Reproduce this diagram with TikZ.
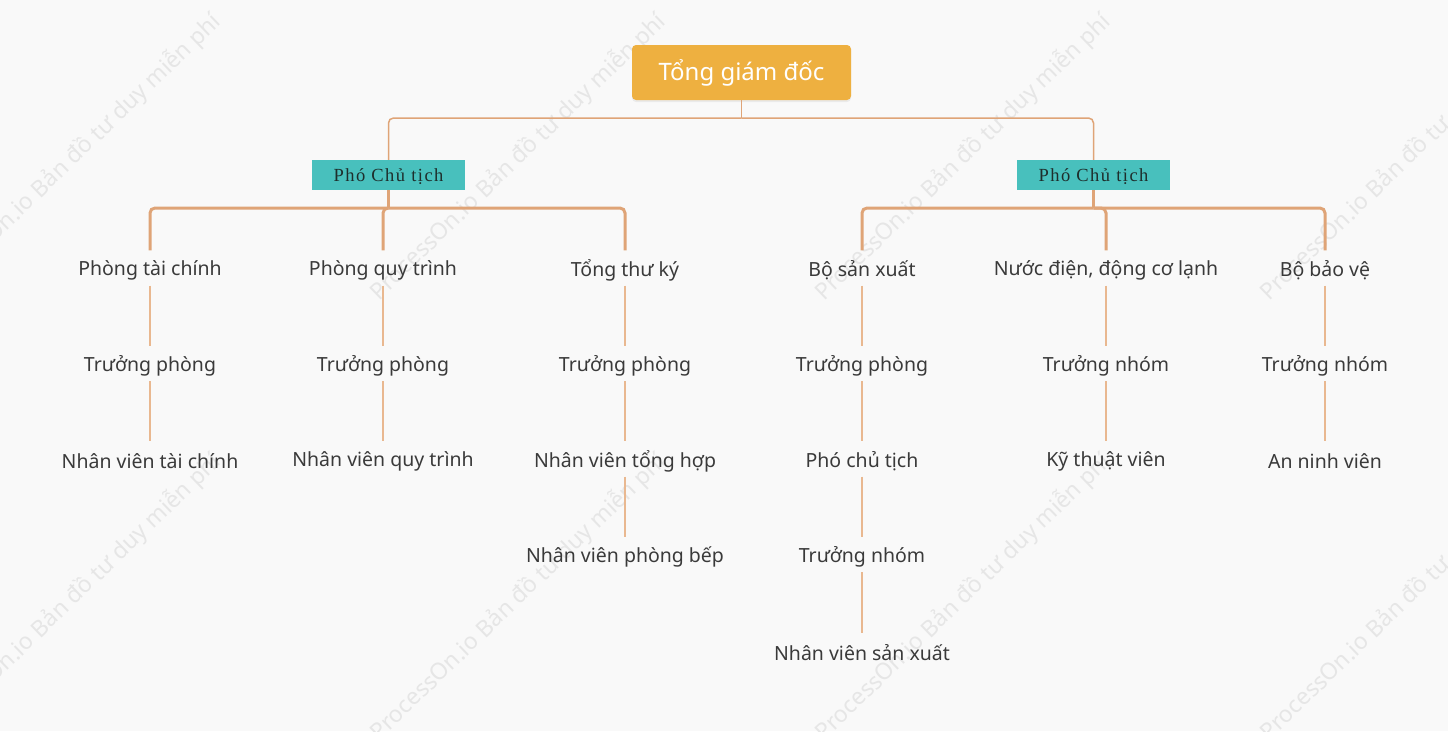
\documentclass[tikz,border=0pt]{standalone}
\usepackage{fontspec}
\setmainfont{Noto Sans}
\newfontfamily\pctfont[LetterSpace=8]{Liberation Serif}
\usetikzlibrary{shadows}
\definecolor{bgc}{HTML}{F9F9F9}
\definecolor{rootc}{HTML}{EEB040}
\definecolor{tealc}{HTML}{48C0BD}
\definecolor{txtc}{HTML}{3A3A3A}
\definecolor{pcttxt}{HTML}{1E2E2C}
\definecolor{linec}{HTML}{DFA477}
\definecolor{thinc}{HTML}{E9B890}
\definecolor{wmc}{HTML}{E6E6E6}
\begin{document}
\begin{tikzpicture}[x=1pt,y=-1pt,
  rootbox/.style={fill=rootc, rounded corners=4pt, minimum width=219pt, minimum height=55pt, inner sep=0pt,
    text=white, font=\fontsize{24}{28}\selectfont,
    drop shadow={opacity=0.12, shadow xshift=0pt, shadow yshift=-2pt}},
  pctbox/.style={fill=tealc, minimum width=153pt, minimum height=30pt, inner sep=0pt,
    text height=14.5pt, text depth=1pt,
    text=pcttxt, font=\pctfont\fontsize{18.5}{21}\selectfont},
  lbl/.style={text=txtc, font=\fontsize{19.5}{23}\selectfont, minimum height=30pt, inner sep=0pt},
  topline/.style={draw=linec, line width=1.5pt, rounded corners=5pt},
  thickline/.style={draw=linec, line width=3pt, rounded corners=5pt, shorten >=5pt},
  thinline/.style={draw=thinc, line width=1.6pt, shorten >=5pt},
  wm/.style={text=wmc, font=\fontsize{23}{27}\selectfont, rotate=44, inner sep=0pt}
]
\useasboundingbox (0,0) rectangle (1448,731);
\fill[bgc] (0,0) rectangle (1448,731);

% watermark
\begin{scope}
\clip (0,0) rectangle (1448,731);
\foreach \wx/\wy [count=\i] in {73/157,518/157,963/157,1408/157,73/597,518/597,963/597,1408/597}{
  \node[wm] (wm\i) at (\wx,\wy) {ProcessOn.io Bản đồ tư duy miễn phí};
}
\end{scope}

% nodes
\node[rootbox] (root) at (741.5,72.5) {Tổng giám đốc};
\node[pctbox] (pctL) at (388.5,175) {Phó Chủ tịch};
\node[pctbox] (pctR) at (1093.5,175) {Phó Chủ tịch};

\node[lbl] (a1) at (150,270.5) {Phòng tài chính};
\node[lbl] (a2) at (150,366) {Trưởng phòng};
\node[lbl] (a3) at (150,461.5) {Nhân viên tài chính};

\node[lbl] (b1) at (383,270.5) {Phòng quy trình};
\node[lbl] (b2) at (383,366) {Trưởng phòng};
\node[lbl] (b3) at (383,461.5) {Nhân viên quy trình};

\node[lbl] (c1) at (625,270.5) {Tổng thư ký};
\node[lbl] (c2) at (625,366) {Trưởng phòng};
\node[lbl] (c3) at (625,461.5) {Nhân viên tổng hợp};
\node[lbl] (c4) at (625,557) {Nhân viên phòng bếp};

\node[lbl] (d1) at (862,270.5) {Bộ sản xuất};
\node[lbl] (d2) at (862,366) {Trưởng phòng};
\node[lbl] (d3) at (862,461.5) {Phó chủ tịch};
\node[lbl] (d4) at (862,557) {Trưởng nhóm};
\node[lbl] (d5) at (862,653) {Nhân viên sản xuất};

\node[lbl] (e1) at (1106,270.5) {Nước điện, động cơ lạnh};
\node[lbl] (e2) at (1106,366) {Trưởng nhóm};
\node[lbl] (e3) at (1106,461.5) {Kỹ thuật viên};

\node[lbl] (f1) at (1325,270.5) {Bộ bảo vệ};
\node[lbl] (f2) at (1325,366) {Trưởng nhóm};
\node[lbl] (f3) at (1325,461.5) {An ninh viên};

% root to vice presidents
\draw[draw=linec, line width=1.5pt] (root.south) -- (741.5,118) coordinate (jT);
\draw[topline] (jT) -| (pctL.north);
\draw[topline] (jT) -| (pctR.north);

% vice presidents to departments
\draw[draw=linec, line width=3pt] (pctL.south) -- (388.5,208) coordinate (jL);
\draw[draw=linec, line width=3pt] (pctR.south) -- (1093.5,208) coordinate (jR);
\foreach \n in {a1,b1,c1}{ \draw[thickline] (jL) -| (\n.north); }
\foreach \n in {d1,e1,f1}{ \draw[thickline] (jR) -| (\n.north); }

% chains
\foreach \p/\q in {a1/a2,a2/a3,b1/b2,b2/b3,c1/c2,c2/c3,c3/c4,d1/d2,d2/d3,d3/d4,d4/d5,e1/e2,e2/e3,f1/f2,f2/f3}{
  \draw[thinline] (\p.south) -- (\q.north);
}
\end{tikzpicture}
\end{document}
